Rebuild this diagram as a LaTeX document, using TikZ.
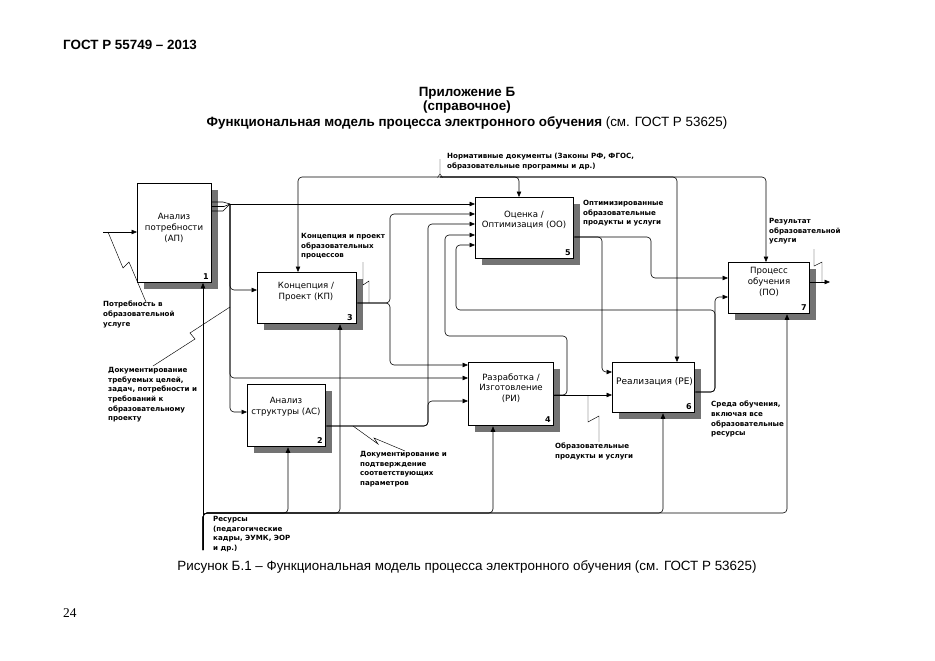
\documentclass[tikz,border=0pt]{standalone}
\usepackage{fontspec}
\setmainfont{Liberation Sans}
\newfontfamily\dvs{DejaVu Sans}
\newfontfamily\tms{Liberation Serif}
\usetikzlibrary{arrows.meta}
\begin{document}
\begin{tikzpicture}[x=1pt,y=-1pt,
  box/.style={draw,line width=1.3pt,fill=white,anchor=north west,inner sep=0pt},
  shd/.style={fill=black!55,draw=none},
  btxt/.style={font=\dvs\fontsize{8.6}{10.6}\selectfont,align=center,inner sep=0pt},
  num/.style={font=\dvs\bfseries\fontsize{8}{9}\selectfont,inner sep=0pt,anchor=south east},
  lbl/.style={font=\dvs\bfseries\fontsize{7.1}{9.7}\selectfont,align=left,anchor=north west,inner sep=0pt},
  conn/.style={line width=0.6pt,rounded corners=4pt},
  arr/.style={conn,-{Triangle[length=5.5pt,width=4.5pt]}},
  sq/.style={line width=0.45pt},
  big/.style={font=\fontsize{13.4}{15}\selectfont,inner sep=0pt},
  bigb/.style={font=\bfseries\fontsize{13.4}{15}\selectfont,inner sep=0pt},
]
\useasboundingbox (0,0) rectangle (935,661);
\fill[white] (0,0) rectangle (935,661);

% header, title, caption
\node[bigb,anchor=west] (hdr) at (63,45) {ГОСТ Р 55749 – 2013};
\node[bigb] (t1) at (467,93) {Приложение Б};
\node[bigb] (t2) at (467,107) {(справочное)};
\node[bigb] (t3) at (467,123) {Функциональная модель процесса электронного обучения \mdseries(см. ГОСТ Р 53625)};
\node[big] (cap) at (467,567) {Рисунок Б.1 – Функциональная модель процесса электронного обучения (см. ГОСТ Р 53625)};
\node[big,font=\tms\fontsize{13.4}{15}\selectfont,anchor=west] (pg) at (63,613) {24};

% shadows
\fill[shd] (144,190) rectangle (218,289);
\fill[shd] (264,279) rectangle (363,330);
\fill[shd] (482,204) rectangle (580,265);
\fill[shd] (735,269) rectangle (816,320);
\fill[shd] (254,391) rectangle (332,453);
\fill[shd] (475,369) rectangle (560,432);
\fill[shd] (619,369) rectangle (701,419);

% boxes
\node[box,line width=0.9pt,minimum width=74pt,minimum height=99pt] (AP) at (137,183) {};
\node[box,minimum width=99pt,minimum height=51pt] (KP) at (257,272) {};
\node[box,minimum width=98pt,minimum height=61pt] (OO) at (475,197) {};
\node[box,minimum width=81pt,minimum height=51pt] (PO) at (728,262) {};
\node[box,minimum width=78pt,minimum height=62pt] (AS) at (247,384) {};
\node[box,minimum width=85pt,minimum height=63pt] (RI) at (468,362) {};
\node[box,minimum width=82pt,minimum height=50pt] (RE) at (612,362) {};

\node[btxt,anchor=west,font=\dvs\fontsize{9}{10.6}\selectfont] (REt) at (616,382) {Реализация (РЕ)};
\fill[shd] (694.8,369) rectangle (701,419);

% top control
\coordinate (ctl) at (440,177);
\draw[arr] (ctl) -| (KP.north -| 298,0);
\draw[arr] (ctl) -| (OO.north -| 519,0);
\draw[arr] (ctl) -| (RE.north -| 677,0);
\draw[arr] (ctl) -| (PO.north -| 766,0);
\draw[sq] (440,159) -- (440,174) -- (437.5,177.5);
\draw[sq] (440,174) -- (442.5,177.5);
\node[lbl] (Lctl) at (447,153) {Нормативные документы (Законы РФ, ФГОС,\\образовательные программы и др.)};

% AP input
\coordinate (inAP) at (103,232);
\draw[arr] (inAP) -- (AP.west |- inAP);
\draw[sq] (108,232) -- (123,268) -- (129,262) -- (146,302);
\node[lbl] (LAP) at (103,301) {Потребность в\\образовательной\\услуге};

% AP outputs
\coordinate (J) at (230,204);
\draw[line width=0.6pt] (AP.east |- 0,202) -- (223,202) -- (J);
\draw[line width=0.6pt] (AP.east |- 0,206.5) -- (224,206.5) -- (J);
\draw[line width=0.6pt] (AP.east |- 0,211) -- (223,211) -- (J);
\draw[arr] (J) -- (OO.west |- J);
\draw[arr] (J) |- (KP.west |- 0,290);
\draw[arr] (J) |- (RI.west |- 0,378);
\draw[arr] (J) |- (AS.west |- 0,412);
\draw[sq] (230,307) -- (190,333) -- (195,339) -- (153,366);
\node[lbl] (Ldoc) at (108,367) {Документирование\\требуемых целей,\\задач, потребности и\\требований к\\образовательному\\проекту};

% KP outputs
\draw[arr] (KP.east |- 0,303) -| (390,214) -- (OO.west |- 0,214);
\draw[arr] (KP.east |- 0,303) -| (390,365) -- (RI.west |- 0,365);
\draw[sq] (363,262) -- (363,285) -- (369,281) -- (369,303);
\node[lbl] (LKP) at (301,233) {Концепция и проект\\образовательных\\процессов};

% AS outputs
\draw[arr] (AS.east |- 0,426) -| (428,224) -- (OO.west |- 0,224);
\draw[arr] (AS.east |- 0,426) -| (428,401) -- (RI.west |- 0,401);
\draw[sq] (353,426) -- (378,444) -- (374,438) -- (405,451);
\node[lbl] (LAS) at (360,451) {Документирование и\\подтверждение\\соответствующих\\параметров};

% OO outputs
\draw[arr] (OO.east |- 0,237) -| (651,278) -- (PO.west |- 0,278);
\draw[arr] (OO.east |- 0,237) -| (602,372) -- (RE.west |- 0,372);
\node[lbl] (LOO) at (583,200) {Оптимизированные\\образовательные\\продукты и услуги};

% RI outputs
\draw[arr] (RI.east |- 0,395) -- (RE.west |- 0,395);
\draw[arr] (RI.east |- 0,395) -| (567,336) -| (445,235) -- (OO.west |- 0,235);
\draw[sq] (588,395) -- (588,422) -- (599,416) -- (599,442);
\node[lbl] (LRI) at (555,443) {Образовательные\\продукты и услуги};

% RE outputs
\draw[arr] (RE.east |- 0,392) -| (715,297) -- (PO.west |- 0,297);
\draw[arr] (RE.east |- 0,392) -| (715,310) -| (456,245) -- (OO.west |- 0,245);
\node[lbl] (LRE) at (711,401) {Среда обучения,\\включая все\\образовательные\\ресурсы};

% PO output
\coordinate (outPO) at (830,282);
\draw[arr] (PO.east |- outPO) -- (outPO);
\draw[sq] (814,249) -- (814,266) -- (822,262) -- (822,282);
\node[lbl] (LPO) at (769,218) {Результат\\образовательной\\услуги};

% mechanisms
\coordinate (mech) at (203,550);
\draw[arr] (mech) -- (AP.south -| mech);
\draw[arr] (mech) |- (288,513) -- (AS.south -| 288,0);
\draw[arr] (mech) |- (340,513) -- (KP.south -| 340,0);
\draw[arr] (mech) |- (493,513) -- (RI.south -| 493,0);
\draw[arr] (mech) |- (663,513) -- (RE.south -| 663,0);
\draw[arr] (mech) |- (787,513) -- (PO.south -| 787,0);
\node[lbl] (Lmech) at (213,516) {Ресурсы\\(педагогические\\кадры, ЭУМК, ЭОР\\и др.)};

% box texts
\node[btxt] (APt) at (174,228) {Анализ\\потребности\\(АП)};
\node[btxt] (KPt) at (306,292) {Концепция /\\Проект (КП)};
\node[btxt] (OOt) at (524,220) {Оценка /\\Оптимизация (ОО)};
\node[btxt] (POt) at (769,282) {Процесс\\обучения\\(ПО)};
\node[btxt] (ASt) at (286,407) {Анализ\\структуры (АС)};
\node[btxt] (RIt) at (511,388) {Разработка /\\Изготовление\\(РИ)};
\node[num] (APn) at (209,280) {1};
\node[num] (KPn) at (353,321) {3};
\node[num] (OOn) at (571,256) {5};
\node[num] (POn) at (807,311) {7};
\node[num] (ASn) at (323,444) {2};
\node[num] (RIn) at (551,423) {4};
\node[num] (REn) at (692,410) {6};
\end{tikzpicture}
\end{document}
